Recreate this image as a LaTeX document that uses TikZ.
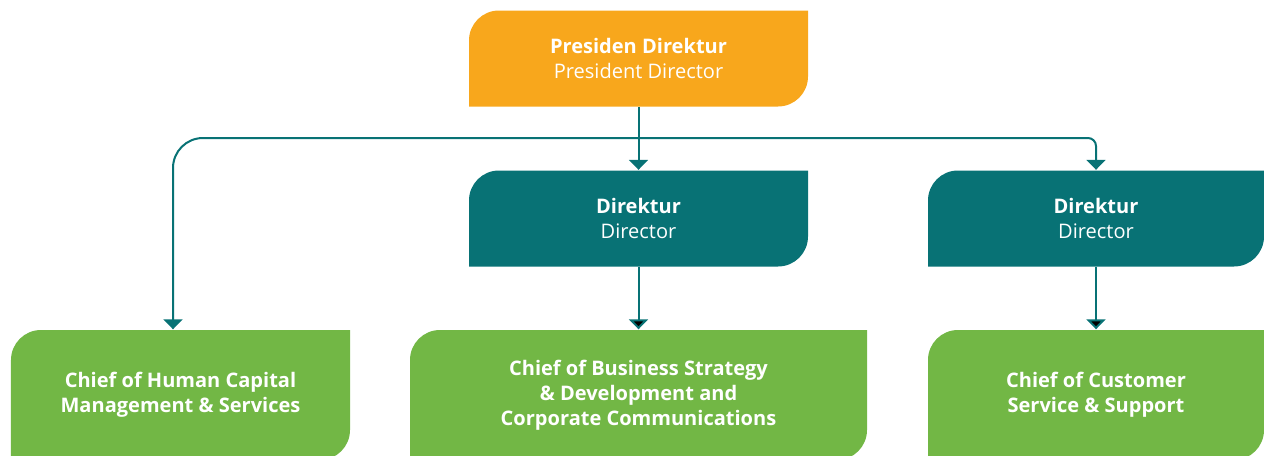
\documentclass[tikz,border=0pt]{standalone}
\usepackage{fontspec}
\setmainfont{Open Sans}
\usetikzlibrary{arrows.meta}

\definecolor{presorange}{HTML}{F8A71C}
\definecolor{dirteal}{HTML}{087275}
\definecolor{chiefgreen}{HTML}{72B745}

\newcommand{\orgfont}{\fontsize{5.7}{7.1}\selectfont}
\newcommand{\cornerr}{0.3cm}

\tikzset{
  % box with round top-left and bottom-right corners
  orgbox/.style={
    shape = rectangle, inner sep = 0pt, align = center,
    text = white, font = \orgfont,
    path picture = {
      \fill[#1]
        ([yshift=-\cornerr]path picture bounding box.north west)
        arc[start angle=180, end angle=90, radius=\cornerr]
        -- (path picture bounding box.north east)
        -- ([yshift=\cornerr]path picture bounding box.south east)
        arc[start angle=0, end angle=-90, radius=\cornerr]
        -- (path picture bounding box.south west)
        -- cycle;
    }
  },
  link/.style={draw = dirteal, line width = 0.02cm,
    -{Triangle[width=0.19cm, length=0.1cm]}}
}

\begin{document}
\begin{tikzpicture}
        \useasboundingbox (0, 0) rectangle (12.64, -4.56);

        \node[orgbox = presorange, minimum width = 3.39cm, minimum height = 0.96cm]
          at ( 6.385, -0.585) (pres) {\textbf{Presiden Direktur}\\President Director};

        % ------------------------------------------------------------------------
        % Directors
        \node[orgbox = dirteal, minimum width = 3.39cm, minimum height = 0.96cm]
          at ( 6.385, -2.185) (dir1) {\textbf{Direktur}\\Director};
        \node[orgbox = dirteal, minimum width = 3.36cm, minimum height = 0.96cm]
          at (10.96, -2.185) (dir2) {\textbf{Direktur}\\Director};

        % ------------------------------------------------------------------------
        % Chiefs
        \node[orgbox = chiefgreen, minimum width = 3.39cm, minimum height = 1.3cm]
          at ( 1.805, -3.95) (hcm) {\textbf{Chief of Human Capital}\\\textbf{Management \& Services}};
        \node[orgbox = chiefgreen, minimum width = 4.57cm, minimum height = 1.3cm]
          at ( 6.385, -3.95) (bsd) {\textbf{Chief of Business Strategy}\\\textbf{\& Development and}\\\textbf{Corporate Communications}};
        \node[orgbox = chiefgreen, minimum width = 3.36cm, minimum height = 1.3cm]
          at (10.96, -3.95) (css) {\textbf{Chief of Customer}\\\textbf{Service \& Support}};

        \coordinate (split) at (6.385, -1.38);

        \draw[link] (pres) -- (dir1);
        \draw[link, rounded corners = 0.3cm] (split) -| (hcm.north -| 1.73, 0);
        \draw[link, rounded corners = 0.08cm] (split) -| (dir2);
        \draw[link]
          (dir1) edge (bsd)
          (dir2) edge (css)
        ;
      \end{tikzpicture}
\end{document}
